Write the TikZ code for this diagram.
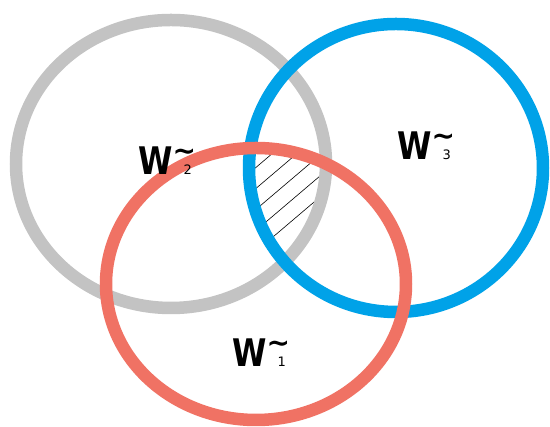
\documentclass[tikz,border=0pt]{standalone}
\usepackage{graphicx}
\usepackage{fontspec}
\newfontfamily\lblfont{DejaVu Sans}
\definecolor{ringgray}{RGB}{195,195,195}
\definecolor{ringblue}{RGB}{0,162,232}
\definecolor{ringred}{RGB}{240,114,100}
\newcommand\wlab[1]{{\lblfont\bfseries\scalebox{0.82}[1]{\fontsize{38}{38}\selectfont W}\rlap{\raisebox{14.5pt}{\fontsize{28}{28}\selectfont\char"7E}}\hspace{11pt}\raisebox{0.5pt}{\fontsize{13}{13}\mdseries\selectfont #1}}}
\tikzset{
  ring/.style={line width=12.5pt},
  hatchline/.style={line width=0.6pt, black},
  wlabel/.style={anchor=base west, inner sep=0pt}
}
\begin{document}
\begin{tikzpicture}[x=1pt,y=1pt]
\fill[white] (0,0) rectangle (550,427);
\useasboundingbox (0,0) rectangle (550,427);
% hatching of the triple intersection
\begin{scope}
  \clip (171,263) ellipse [x radius=155, y radius=144];
  \clip (396,259) ellipse [x radius=147, y radius=144];
  \clip (256,143) ellipse [x radius=150, y radius=136];
  \foreach \c in {42,21,0,-21,-42}{
    \draw[hatchline] (220,{\c+0.85*220}) -- (350,{\c+0.85*350});
  }
\end{scope}
% rings
\draw[ring, ringgray] (171,263) ellipse [x radius=155, y radius=144];
\draw[ring, ringblue] (396,259) ellipse [x radius=147, y radius=144];
\draw[ring, ringred] (256,143) ellipse [x radius=150, y radius=136];
% labels
\node[wlabel] (w2) at (138,252) {\wlab{2}};
\node[wlabel] (w3) at (397,267) {\wlab{3}};
\node[wlabel] (w1) at (232,60) {\wlab{1}};
\end{tikzpicture}
\end{document}
